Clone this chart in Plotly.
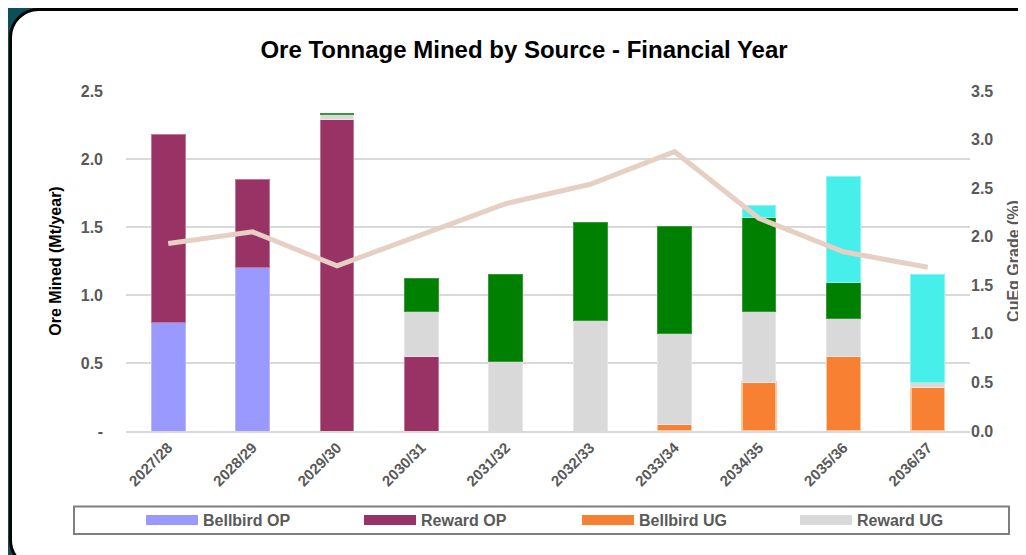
import plotly.graph_objects as go

years = ['2027/28', '2028/29', '2029/30', '2030/31', '2031/32',
         '2032/33', '2033/34', '2034/35', '2035/36', '2036/37']

# None = no tonnage from that source in the year
bellbird_op = [0.80, 1.20, None, None, None, None, None, None, None, None]
reward_op = [1.38, 0.65, 2.29, 0.55, None, None, None, None, None, None]
bellbird_ug = [None, None, None, None, None, None, 0.05, 0.36, 0.55, 0.32]
reward_ug = [None, None, 0.035, 0.33, 0.51, 0.81, 0.67, 0.52, 0.28, 0.04]
green_src = [None, None, 0.01, 0.245, 0.64, 0.725, 0.785, 0.69, 0.26, None]
cyan_src = [None, None, None, None, None, None, None, 0.085, 0.785, 0.79]
cueq_grade = [1.93, 2.05, 1.70, 2.02, 2.34, 2.54, 2.875, 2.19, 1.845, 1.685]

FONT = "Liberation Sans"
GREY = "#595959"

# page puts the figure 8px in from the top-left corner
OFF = 8
W, H = 1026 - OFF, 555 - OFF
# plot area in screen pixels
L, R, T, B = 126, 970, 91, 431


def px(x):
    return (x - L) / (R - L)


def py(y):
    return (B - y) / (B - T)


fig = go.Figure()

series = [
    ("Bellbird OP", bellbird_op, "#9999ff", "#b8b8ff", 1, True),
    ("Reward OP", reward_op, "#993366", "#c07895", 1, True),
    ("Bellbird UG", bellbird_ug, "#f78032", "#fdc79c", 1.5, True),
    ("Reward UG", reward_ug, "#d9d9d9", "#e6e6e6", 1, True),
    ("Reward UG Ext", green_src, "#008000", "#3a9a3a", 1, False),
    ("Bellbird UG Ext", cyan_src, "#47efea", "#8af5f1", 1, False),
]

for name, vals, col, edge, lw, leg in series:
    fig.add_trace(go.Bar(x=years, y=vals, name=name, marker_color=col,
                         marker_line=dict(color=edge, width=lw),
                         legendgroup=name, showlegend=False,
                         hovertemplate="%{x}: %{y:.2f} Mt<extra>" + name + "</extra>"))
    if leg:
        # wide swatch for the legend entry
        fig.add_trace(go.Scatter(x=[None], y=[None], mode="lines", name=name,
                                 line=dict(color=col, width=12),
                                 legendgroup=name, showlegend=True))

fig.add_trace(go.Scatter(x=years, y=cueq_grade, yaxis="y2", mode="lines",
                         name="CuEq Grade", showlegend=False,
                         line=dict(color="#e6cfc3", width=5)))

# white card with rounded left corners
r = 28
k = 0.45
x0, y0, x1, y1 = 10.5, 9.5, 1060, 568
pts = [
    ("M", [(x0, y0 + r)]),
    ("C", [(x0, y0 + r * k), (x0 + r * k, y0), (x0 + r, y0)]),
    ("L", [(x1, y0)]),
    ("L", [(x1, y1)]),
    ("L", [(x0 + r, y1)]),
    ("C", [(x0 + r * k, y1), (x0, y1 - r * k), (x0, y1 - r)]),
]
path = " ".join(c + " " + " ".join(f"{px(a):.5f},{py(b):.5f}" for a, b in p) for c, p in pts) + " Z"
fig.add_shape(type="path", path=path, xref="paper", yref="paper",
              fillcolor="white", line=dict(color="black", width=3), layer="below")
# legend frame
fig.add_shape(type="rect", xref="paper", yref="paper",
              x0=px(74), x1=px(1009), y0=py(506.5), y1=py(534),
              fillcolor="white", line=dict(color="#7f7f7f", width=2), layer="below")

fig.update_layout(
    width=W, height=H,
    margin=dict(l=L - OFF, r=W - (R - OFF), t=T - OFF, b=H - (B - OFF)),
    paper_bgcolor="#0a4f59",
    plot_bgcolor="white",
    barmode="stack",
    bargap=0.6,
    title=dict(text="<b>Ore Tonnage Mined by Source - Financial Year</b>",
               x=px(524), xanchor="center", xref="paper",
               y=1 - (50 - OFF) / H, yanchor="middle",
               font=dict(family=FONT, size=24, color="black")),
    xaxis=dict(tickangle=-45, showgrid=False, showline=True, linecolor="#d9d9d9",
               linewidth=2, ticks="", automargin=False,
               tickfont=dict(family=FONT, size=15, color=GREY, weight="bold")),
    yaxis=dict(range=[0, 2.5], tickvals=[0, 0.5, 1, 1.5, 2, 2.5],
               ticktext=["-", "0.5", "1.0", "1.5", "2.0", "2.5"],
               gridcolor="#d9d9d9", gridwidth=1.5, zeroline=False,
               ticklabelstandoff=22, automargin=False,
               tickfont=dict(family=FONT, size=16, color=GREY, weight="bold"),
               title=dict(text="<b>Ore Mined (Mt/year)</b>",
                          font=dict(family=FONT, size=16, color="black"))),
    yaxis2=dict(range=[0, 3.5], overlaying="y", side="right", showgrid=False,
                zeroline=False, tickformat=".1f", dtick=0.5, automargin=False,
                tickfont=dict(family=FONT, size=16, color=GREY, weight="bold"),
                title=dict(text="<b>CuEq Grade (%)</b>",
                           font=dict(family=FONT, size=16, color=GREY))),
    legend=dict(orientation="h", x=px(1013), xanchor="right",
                y=py(520), yanchor="middle", borderwidth=0,
                bgcolor="rgba(0,0,0,0)", entrywidth=151, itemwidth=52,
                font=dict(family=FONT, size=16, color=GREY, weight="bold")),
)

fig.write_html("out.html")
